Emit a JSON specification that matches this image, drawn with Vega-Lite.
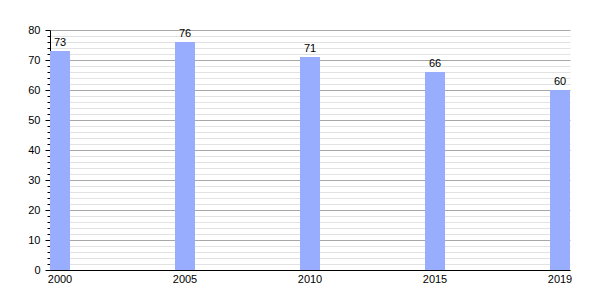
{
  "$schema": "https://vega.github.io/schema/vega-lite/v6.json",
  "width": 520,
  "height": 240,
  "autosize": "none",
  "padding": {"left": 50, "top": 30, "right": 30, "bottom": 30},
  "background": "white",
  "config": {
    "view": {"stroke": null},
    "font": "Liberation Sans",
    "axis": {"labelFont": "Liberation Sans", "labelFontSize": 11, "labelColor": "#000"}
  },
  "data": {
    "values": [
      {"year": "2000", "value": 73},
      {"year": "2005", "value": 76},
      {"year": "2010", "value": 71},
      {"year": "2015", "value": 66},
      {"year": "2019", "value": 60}
    ]
  },
  "encoding": {
    "x": {
      "field": "year",
      "type": "ordinal",
      "sort": null,
      "scale": {"paddingInner": 0.84, "paddingOuter": 0},
      "axis": {
        "title": null,
        "labelAngle": 0,
        "ticks": false,
        "labelPadding": 3,
        "domainColor": "#000",
        "domainWidth": 1
      }
    },
    "y": {
      "field": "value",
      "type": "quantitative",
      "scale": {"domain": [0, 80], "nice": false},
      "axis": {
        "title": null,
        "values": [0,2,4,6,8,10,12,14,16,18,20,22,24,26,28,30,32,34,36,38,40,42,44,46,48,50,52,54,56,58,60,62,64,66,68,70,72,74,76,78,80],
        "labelExpr": "datum.value % 10 === 0 ? datum.label : ''",
        "grid": true,
        "gridColor": {"condition": {"test": "datum.value % 10 === 0", "value": "#a8a8a8"}, "value": "#e2e2e2"},
        "tickSize": {"condition": {"test": "datum.value % 10 === 0", "value": 5}, "value": 3},
        "tickColor": "#000",
        "domainColor": "#000",
        "labelPadding": 5
      }
    }
  },
  "layer": [
    {"mark": {"type": "bar", "color": "#99adff"}},
    {
      "mark": {"type": "text", "baseline": "bottom", "dy": -3, "fontSize": 11, "color": "#000", "font": "Liberation Sans"},
      "encoding": {"text": {"field": "value", "type": "quantitative"}}
    }
  ]
}
